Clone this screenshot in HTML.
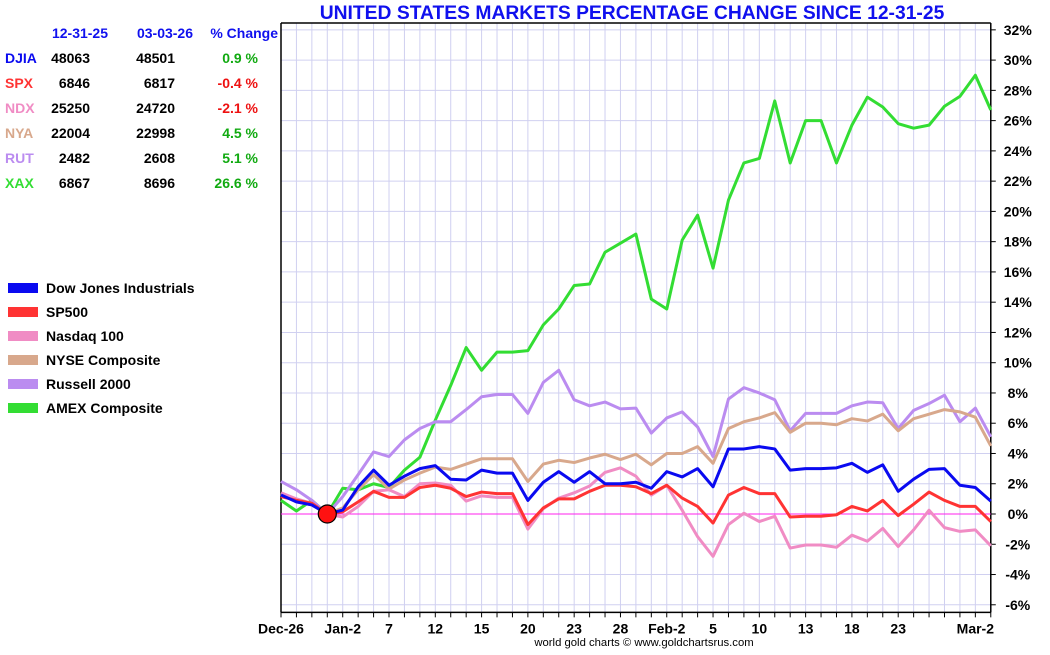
<!DOCTYPE html>
<html><head><meta charset="utf-8"><style>
body{margin:0;background:#fff;width:1050px;height:650px;overflow:hidden;font-family:"Liberation Sans",Arial,sans-serif}
svg text{font-family:"Liberation Sans",Arial,sans-serif;font-weight:bold}
</style></head><body>
<svg id="c" width="1050" height="650">
<text x="632" y="19" text-anchor="middle" font-size="19.3" fill="#1010ee">UNITED STATES MARKETS PERCENTAGE CHANGE SINCE 12-31-25</text>
<g id="grid"></g>
<g id="axes"></g>
<g id="series"></g>
<g id="table"></g>
<g id="legend"></g>
<text x="644" y="646" text-anchor="middle" font-size="11.3" style="font-weight:normal" fill="#000">world gold charts © www.goldchartsrus.com</text>
</svg>
<script>
const xLabels = ["Dec-26","Jan-2","7","12","15","20","23","28","Feb-2","5","10","13","18","23","Mar-2"];
const xLabelIdx = [0,4,7,10,13,16,19,22,25,28,31,34,37,40,45];
const yTicks = [-6,-4,-2,0,2,4,6,8,10,12,14,16,18,20,22,24,26,28,30,32];
const djia = [1.26,0.8,0.6,0,0.26,1.8,2.9,1.9,2.5,3.0,3.2,2.3,2.25,2.9,2.7,2.7,0.9,2.1,2.8,2.1,2.8,2.0,2.0,2.1,1.7,2.8,2.45,3.0,1.8,4.3,4.3,4.45,4.3,2.9,3.0,3.0,3.05,3.35,2.75,3.25,1.5,2.3,2.95,3.0,1.9,1.75,0.85];
const spx = [1.15,0.9,0.7,0,0.15,0.8,1.5,1.1,1.1,1.75,1.9,1.7,1.15,1.45,1.35,1.35,-0.7,0.4,1.0,1.0,1.5,1.9,1.9,1.8,1.35,1.9,1.05,0.5,-0.6,1.25,1.75,1.35,1.35,-0.2,-0.15,-0.15,-0.05,0.5,0.2,0.9,-0.1,0.65,1.45,0.9,0.5,0.5,-0.5];
const ndx = [1.4,1.0,0.7,0,-0.2,0.5,1.5,1.6,1.15,2.0,2.05,1.9,0.85,1.2,1.1,1.1,-1.0,0.35,1.05,1.4,1.85,2.75,3.05,2.5,1.25,1.9,0.25,-1.5,-2.8,-0.7,0.05,-0.5,-0.15,-2.25,-2.05,-2.05,-2.2,-1.4,-1.8,-0.95,-2.15,-1.05,0.25,-0.9,-1.15,-1.05,-2.1];
const nya = [1.3,0.8,0.6,0,0.4,1.6,2.6,1.65,2.25,2.7,3.1,2.95,3.3,3.65,3.65,3.65,2.15,3.3,3.55,3.4,3.7,3.95,3.6,3.95,3.25,4.0,4.0,4.45,3.35,5.65,6.1,6.35,6.7,5.4,6.0,6.0,5.9,6.3,6.15,6.6,5.5,6.3,6.6,6.9,6.75,6.4,4.5];
const rut = [2.15,1.6,0.9,0,1.15,2.6,4.1,3.8,4.9,5.65,6.1,6.1,6.9,7.75,7.9,7.9,6.65,8.7,9.5,7.55,7.15,7.4,6.95,7.0,5.35,6.35,6.75,5.75,3.8,7.6,8.35,8.0,7.55,5.5,6.65,6.65,6.65,7.15,7.4,7.35,5.65,6.85,7.3,7.85,6.1,7.0,5.1];
const xax = [0.9,0.2,0.9,0,1.7,1.6,2.0,1.75,2.9,3.75,6.2,8.5,11.0,9.5,10.7,10.7,10.8,12.5,13.55,15.1,15.2,17.3,17.9,18.5,14.2,13.55,18.1,19.75,16.25,20.75,23.2,23.5,27.3,23.2,26.0,26.0,23.2,25.7,27.55,26.9,25.8,25.5,25.7,26.95,27.6,29.0,26.7];
const tickers = ["DJIA","SPX","NDX","NYA","RUT","XAX"];
const startVals = [48063,6846,25250,22004,2482,6867];
const endVals = [48501,6817,24720,22998,2608,8696];
const pctChange = [0.9,-0.4,-2.1,4.5,5.1,26.6];
const legendNames = ["Dow Jones Industrials","SP500","Nasdaq 100","NYSE Composite","Russell 2000","AMEX Composite"];
const colors = ["#0a0af0","#ff3333","#f08cc4","#d8a88c","#bb8cf0","#33dd33"];

const NS="http://www.w3.org/2000/svg";
const X0=281, DX=15.43, Y0=514, DY=15.13;
const xs=i=>X0+i*DX, ys=v=>Y0-v*DY;
function mk(t,a,p){const e=document.createElementNS(NS,t);for(const k in a)e.setAttribute(k,a[k]);p.appendChild(e);return e;}
const grid=document.getElementById('grid'),axes=document.getElementById('axes'),ser=document.getElementById('series');
const N=djia.length, xr=xs(N-1), yTop=23, yBot=ys(-6.5);
for(let i=0;i<N;i++){const l=mk('line',{x1:xs(i),x2:xs(i),y1:yTop,y2:yBot,stroke:'#d0d0f0','stroke-width':1},grid);

}
yTicks.forEach(v=>{const l=mk('line',{x1:X0,x2:xr,y1:ys(v),y2:ys(v),stroke:'#d0d0f0','stroke-width':1},grid);


const t=mk('line',{x1:xr,x2:xr+5,y1:ys(v),y2:ys(v),stroke:'#000'},axes);


const tx=mk('text',{x:xr+27,y:ys(v)+5,'text-anchor':'middle','font-size':14,fill:'#000'},axes);tx.textContent=v+'%';


});
mk('line',{x1:X0,x2:X0,y1:yTop,y2:yBot,stroke:'#000','stroke-width':1.5},axes);
mk('line',{x1:xr,x2:xr,y1:yTop,y2:yBot,stroke:'#000','stroke-width':1.5},axes);
mk('line',{x1:X0,x2:xr,y1:yTop,y2:yTop,stroke:'#000','stroke-width':1.5},axes);
mk('line',{x1:X0,x2:xr,y1:yBot,y2:yBot,stroke:'#000','stroke-width':1.5},axes);
for(let i=0;i<N;i++){mk('line',{x1:xs(i),x2:xs(i),y1:yBot,y2:yBot+5,stroke:'#000'},axes);}
xLabels.forEach((s,k)=>{const t=mk('text',{x:xs(xLabelIdx[k]),y:yBot+21,'text-anchor':'middle','font-size':14,fill:'#000'},axes);t.textContent=s;

});
const z=mk('line',{x1:X0,x2:xr,y1:ys(0),y2:ys(0),stroke:'#ff22ee','stroke-width':1},ser);


const all=[djia,spx,ndx,nya,rut,xax], order=[5,4,3,2,1,0];
const names=['dow-line','sp500-line','nasdaq-line','nyse-line','russell-line','amex-line'];
order.forEach(k=>{const p=mk('polyline',{points:all[k].map((v,i)=>xs(i)+','+ys(v)).join(' '),fill:'none',stroke:colors[k],'stroke-width':3,'stroke-linejoin':'round'},ser);

});
const dot=mk('circle',{cx:xs(3),cy:ys(0),r:9,fill:'#ff1111',stroke:'#000','stroke-width':1.2},ser);


const tb=document.getElementById('table');
[["12-31-25",108],["03-03-26",193],["% Change",278]].forEach(h=>{const t=mk('text',{x:h[1],y:38,'text-anchor':'end','font-size':14,fill:'#1010ee'},tb);t.textContent=h[0];

});
tickers.forEach((tk,i)=>{const y=63+i*25;
const a=mk('text',{x:5,y:y,'font-size':14,fill:colors[i]},tb);a.textContent=tk;


const b=mk('text',{x:90,y:y,'text-anchor':'end','font-size':14,fill:'#000'},tb);b.textContent=startVals[i];


const c=mk('text',{x:175,y:y,'text-anchor':'end','font-size':14,fill:'#000'},tb);c.textContent=endVals[i];


const d=mk('text',{x:258,y:y,'text-anchor':'end','font-size':14,fill:pctChange[i]<0?'#ee1111':'#11aa11'},tb);d.textContent=pctChange[i].toFixed(1)+' %';

});
const lg=document.getElementById('legend');
legendNames.forEach((n,i)=>{const y=288+i*24;
const r=mk('rect',{x:8,y:y-5,width:30,height:10,fill:colors[i]},lg);


const t=mk('text',{x:46,y:y+5,'font-size':14,fill:'#000'},lg);t.textContent=n;

});
</script>
</body></html>
